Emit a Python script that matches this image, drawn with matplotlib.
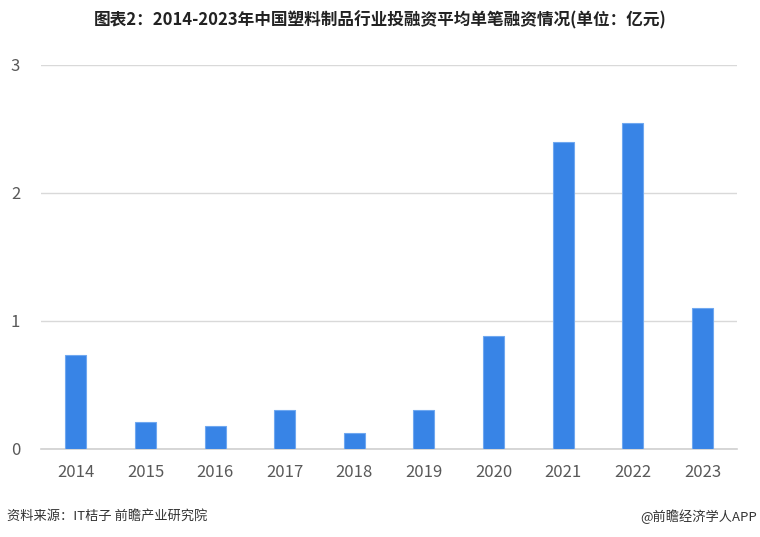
import matplotlib
matplotlib.use("Agg")
import matplotlib.pyplot as plt

plt.rcParams['font.family'] = ['Noto Sans CJK SC', 'DejaVu Sans']

# data
years = ['2014', '2015', '2016', '2017', '2018', '2019', '2020', '2021', '2022', '2023']
avg_amount = [0.73, 0.21, 0.18, 0.30, 0.12, 0.30, 0.88, 2.40, 2.55, 1.10]
y_ticks = [0, 1, 2, 3]

title = '图表2：2014-2023年中国塑料制品行业投融资平均单笔融资情况(单位：亿元)'
source = '资料来源：IT桔子 前瞻产业研究院'
credit = '@前瞻经济学人APP'

fig = plt.figure(figsize=(7.6, 5.37), dpi=100)
ax = fig.add_axes([0.054, 0.1644, 0.916, 0.7146])

x = list(range(len(years)))
ax.bar(x, avg_amount, width=0.30, color='#3884e6', edgecolor='#6fa8f0', linewidth=0.8, zorder=3)

ax.set_xlim(-0.5, len(years) - 0.5)
ax.set_ylim(0, 3)
ax.set_yticks(y_ticks)
ax.set_xticks(x)
ax.set_xticklabels(years)

ax.grid(axis='y', color='#d9d9d9', linewidth=1, zorder=0)
for s in ['top', 'right', 'left']:
    ax.spines[s].set_visible(False)
ax.spines['bottom'].set_color('#d0d0d0')
ax.spines['bottom'].set_linewidth(1.2)

ax.tick_params(axis='both', length=0, labelsize=12, colors='#595959')
ax.tick_params(axis='y', pad=15)
ax.tick_params(axis='x', pad=11)

fig.text(0.5, 0.962, title, ha='center', va='center', fontsize=12, fontweight='bold', color='#222222')
fig.text(0.009, 0.038, source, ha='left', va='center', fontsize=9.5, color='#333333')
fig.text(0.996, 0.038, credit, ha='right', va='center', fontsize=9.5, color='#333333')

fig.savefig('out.png', dpi=100)
